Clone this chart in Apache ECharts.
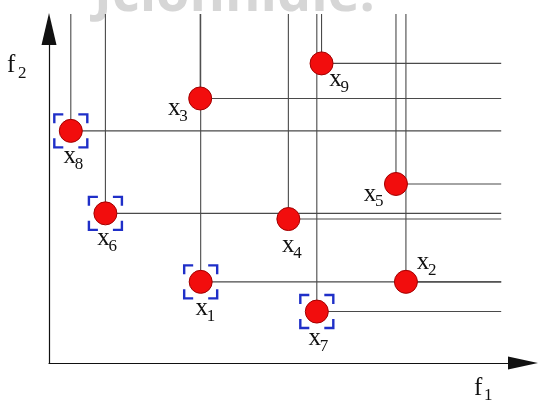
<!DOCTYPE html>
<html>
<head>
<meta charset="utf-8">
<script src="https://cdn.jsdelivr.net/npm/echarts@6/dist/echarts.min.js"></script>
<style>
  html, body { margin: 0; padding: 0; background: #fff; }
  #chart { width: 539px; height: 403px; }
</style>
</head>
<body>
<div id="chart"></div>
<script>
// Solutions in objective space (f1, f2); all objectives minimised.
const pointIds = ['1', '2', '3', '4', '5', '6', '7', '8', '9'];
const f1Values = [3.20, 7.53, 3.19, 5.05, 7.32, 1.19, 5.65, 0.46, 5.75];
const f2Values = [2.43, 2.43, 7.92, 4.31, 5.36, 4.48, 1.54, 6.95, 8.97];
// Non-dominated solutions (first front) get a bracket marker.
const nonDominated = [true, false, false, false, false, true, true, true, false];

// How far the dominance guide lines reach on each objective.
const GUIDE_F1_END = 9.54;
const GUIDE_F2_END = 10.45;

// Label placement for each solution (pixel offset of the "x" from the marker).
const labelOffsets = {
  '1': [1, 30], '2': [17, -16], '3': [-26, 13], '4': [0, 29], '5': [-26, 13],
  '6': [-2, 28], '7': [-2, 30], '8': [-1, 29], '9': [14, 19]
};

const SERIF = "'Liberation Serif', 'Times New Roman', 'DejaVu Serif', serif";
const points = pointIds.map((id, i) => [f1Values[i], f2Values[i], id, nonDominated[i] ? 1 : 0]);

function serifText(text, x, y, size, align) {
  return {
    type: 'text',
    style: { text: text, x: x, y: y, align: align, verticalAlign: 'middle',
             fontFamily: SERIF, fontSize: size, fill: '#111' }
  };
}

function renderGuides(params, api) {
  const f1 = api.value(0), f2 = api.value(1);
  const p = api.coord([f1, f2]);
  const top = api.coord([f1, GUIDE_F2_END]);
  const right = api.coord([GUIDE_F1_END, f2]);
  return {
    type: 'polyline',
    shape: { points: [top, p, right] },
    style: { stroke: '#4a4a4a', lineWidth: 1.1, fill: null }
  };
}

function bracketPaths(cx, cy) {
  const h = 16.5, a = 9;
  const segs = [];
  [[-1, -1], [1, -1], [-1, 1], [1, 1]].forEach(([sx, sy]) => {
    const x = cx + sx * h, y = cy + sy * h;
    segs.push({
      type: 'polyline',
      shape: { points: [[x, y - sy * a], [x, y], [x - sx * a, y]] },
      style: { stroke: '#1f2fc8', lineWidth: 2.4, fill: null }
    });
  });
  return segs;
}

function renderPoints(params, api) {
  const p = api.coord([api.value(0), api.value(1)]);
  const id = pointIds[params.dataIndex];
  const off = labelOffsets[id];
  const children = [];
  if (api.value(3) === 1) children.push(...bracketPaths(p[0], p[1]));
  children.push({
    type: 'circle',
    shape: { cx: p[0], cy: p[1], r: 11.5 },
    style: { fill: '#f20d0d', stroke: '#a30000', lineWidth: 1 }
  });
  const lx = p[0] + off[0], ly = p[1] + off[1];
  children.push(serifText('x', lx, ly - 3, 25, 'center'));
  children.push(serifText(id, lx + 5, ly + 5, 17, 'left'));
  return { type: 'group', children: children };
}

const chart = echarts.init(document.getElementById('chart'), null, { renderer: 'canvas' });
chart.setOption({
  animation: false,
  backgroundColor: '#fff',
  grid: { left: 49, right: 16, top: 29, bottom: 40 },
  xAxis: {
    type: 'value', min: 0, max: 10,
    axisLine: { show: true, onZero: false, symbol: ['none', 'triangle'], symbolSize: [13, 30],
                lineStyle: { color: '#111', width: 1.2 } },
    axisTick: { show: false }, axisLabel: { show: false }, splitLine: { show: false }
  },
  yAxis: {
    type: 'value', min: 0, max: 10,
    axisLine: { show: true, onZero: false, symbol: ['none', 'triangle'], symbolSize: [15, 32],
                lineStyle: { color: '#111', width: 1.2 } },
    axisTick: { show: false }, axisLabel: { show: false }, splitLine: { show: false }
  },
  graphic: [
    { type: 'text', x: 94, y: 23, z: 0,
      style: { text: 'Jcionnidle.', fontFamily: 'Open Sans', fontWeight: 'bold', fontSize: 54,
               fill: '#d6d6d6', verticalAlign: 'bottom' } },
    { type: 'text', x: 7, y: 65,
      style: { text: 'f', fontFamily: SERIF, fontSize: 25, fill: '#111', verticalAlign: 'middle' } },
    { type: 'text', x: 18, y: 74,
      style: { text: '2', fontFamily: SERIF, fontSize: 17, fill: '#111', verticalAlign: 'middle' } },
    { type: 'text', x: 474, y: 388,
      style: { text: 'f', fontFamily: SERIF, fontSize: 25, fill: '#111', verticalAlign: 'middle' } },
    { type: 'text', x: 484, y: 396,
      style: { text: '1', fontFamily: SERIF, fontSize: 17, fill: '#111', verticalAlign: 'middle' } }
  ],
  series: [
    { type: 'custom', name: 'guides', data: points, renderItem: renderGuides, z: 2, silent: true },
    { type: 'custom', name: 'solutions', data: points, renderItem: renderPoints, z: 3, silent: true }
  ]
});
</script>
</body>
</html>
